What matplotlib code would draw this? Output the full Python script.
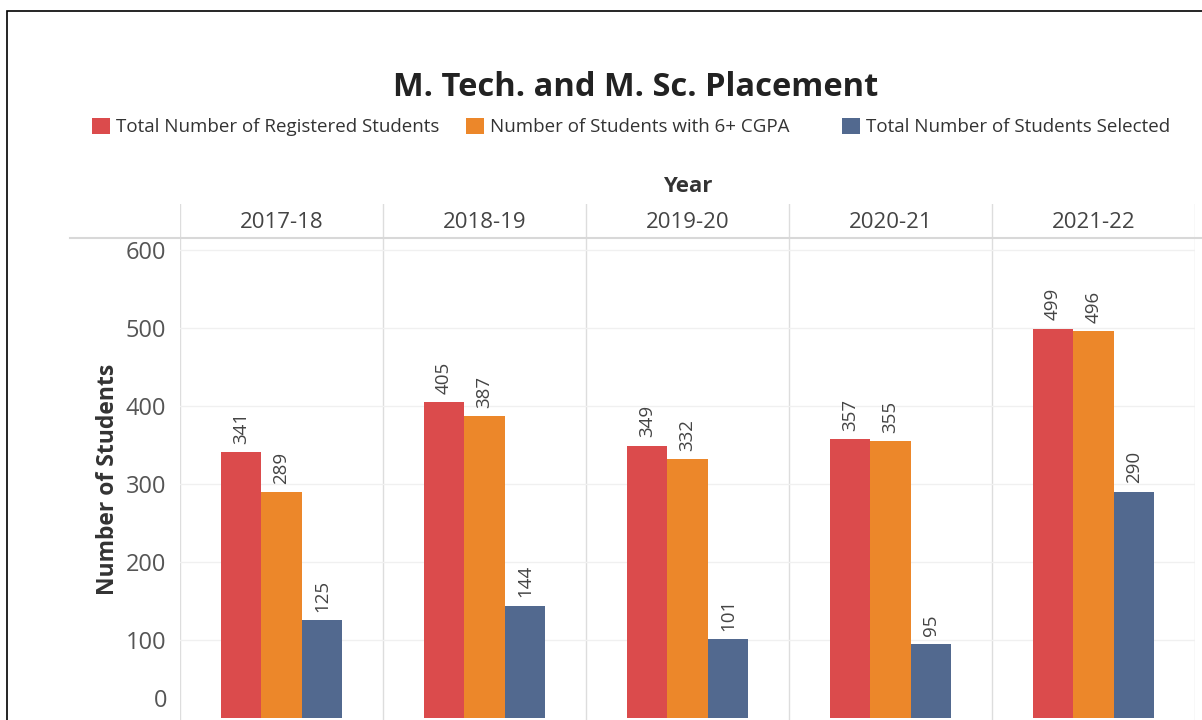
import numpy as np
import matplotlib
matplotlib.use("Agg")
import matplotlib.pyplot as plt
from matplotlib.patches import Patch, Rectangle
from matplotlib.lines import Line2D

plt.rcParams['font.family'] = ['Open Sans', 'DejaVu Sans']

# datos
years = ['2017-18', '2018-19', '2019-20', '2020-21', '2021-22']
registered = [341, 405, 349, 357, 499]
cgpa6 = [289, 387, 332, 355, 496]
selected = [125, 144, 101, 95, 290]
series_names = ['Total Number of Registered Students',
                'Number of Students with 6+ CGPA',
                'Total Number of Students Selected']
colors = ['#db4b4c', '#ec872a', '#52698f']
yticks = [100, 200, 300, 400, 500, 600]

W, H = 1202, 720
fig = plt.figure(figsize=(W / 100, H / 100), dpi=100)

# marco exterior
fig.patches.append(Rectangle((7 / W, -0.1), 1.2, 1 - 11 / H + 0.1, transform=fig.transFigure,
                             fill=False, edgecolor='black', linewidth=1.2))

ax_left, ax_right = 180 / W, 1195 / W
ax_top_px = 238
ax = fig.add_axes([ax_left, 0, ax_right - ax_left, 1 - ax_top_px / H])

x = np.arange(len(years)) + 0.5
bw = 0.2
for i, vals in enumerate([registered, cgpa6, selected]):
    bars = ax.bar(x + (i - 1) * bw, vals, width=bw, color=colors[i], edgecolor='none')
    for b, v in zip(bars, vals):
        ax.annotate(str(v), (b.get_x() + b.get_width() / 2, v), xytext=(0, 6),
                    textcoords='offset points', rotation=90, ha='center', va='bottom',
                    fontsize=13.5, color='#444444')

ax.set_xlim(0, len(years))
ax.set_ylim(-2.5, 615)
ax.set_xticks([])
ax.set_yticks(yticks)
ax.set_yticklabels([str(t) for t in yticks])
ax.tick_params(axis='y', length=0, pad=10, labelsize=17, labelcolor='#555555')
ax.annotate('0', xy=(0, 0), xycoords=('axes fraction', 'data'), xytext=(-13, 17),
            textcoords='offset pixels', ha='right', va='center', fontsize=17, color='#555555')
for s in ax.spines.values():
    s.set_visible(False)
ax.yaxis.grid(True, color='#f0f0f0', linewidth=1)
ax.set_axisbelow(True)
for k in range(len(years) + 1):
    ax.axvline(k, color='#dddddd', linewidth=1, zorder=0)
ax.set_ylabel('Number of Students', fontsize=16.5, fontweight='bold', color='#333333', labelpad=4)

# cabecera con los años
hdr = fig.add_axes([ax_left, 1 - ax_top_px / H, ax_right - ax_left, 34 / H])
hdr.set_xlim(0, len(years))
hdr.set_ylim(0, 1)
hdr.axis('off')
for k in range(len(years) + 1):
    hdr.axvline(k, color='#dddddd', linewidth=1)
for xi, yr in zip(x, years):
    hdr.text(xi, 0.45, yr, ha='center', va='center', fontsize=16, color='#444444')

fig.add_artist(Line2D([70 / W, 1], [1 - ax_top_px / H] * 2, transform=fig.transFigure,
                      color='#d8d8d8', linewidth=1.5))

fig.text(688 / W, 1 - 187 / H, 'Year', ha='center', va='center', fontsize=16,
         fontweight='bold', color='#333333')
fig.text(636 / W, 1 - 88 / H, 'M. Tech. and M. Sc. Placement', ha='center', va='center',
         fontsize=23.5, fontweight='bold', color='#222222')

# leyenda en columnas fijas
leg_x = [92, 466, 842]
for i in range(3):
    lg = fig.legend(handles=[Patch(facecolor=colors[i])], labels=[series_names[i]],
                    loc='center left', bbox_to_anchor=(leg_x[i] / W, 1 - 127 / H),
                    frameon=False, fontsize=13.5, handlelength=0.95, handleheight=0.95,
                    handletextpad=0.35, borderpad=0, borderaxespad=0)
    for t in lg.get_texts():
        t.set_color('#333333')

fig.savefig('out.png', dpi=100)
